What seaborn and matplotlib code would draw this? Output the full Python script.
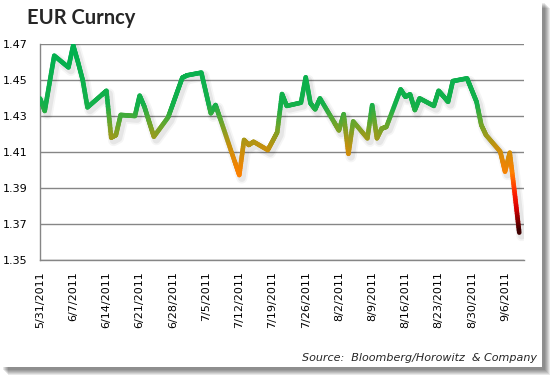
import numpy as np
import pandas as pd
import matplotlib
matplotlib.use("Agg")
import matplotlib.pyplot as plt
import matplotlib.dates as mdates
import matplotlib.transforms as mtransforms
from matplotlib.collections import LineCollection
from matplotlib.colors import LinearSegmentedColormap, Normalize
from matplotlib.patches import Rectangle
from matplotlib.ticker import FuncFormatter
import seaborn as sns

# EUR daily closes
dates = [
    "5/31/2011", "6/1/2011", "6/2/2011", "6/3/2011", "6/6/2011", "6/7/2011",
    "6/8/2011", "6/9/2011", "6/10/2011", "6/13/2011", "6/14/2011", "6/15/2011",
    "6/16/2011", "6/17/2011", "6/20/2011", "6/21/2011", "6/22/2011", "6/23/2011",
    "6/24/2011", "6/27/2011", "6/28/2011", "6/29/2011", "6/30/2011", "7/1/2011",
    "7/4/2011", "7/5/2011", "7/6/2011", "7/7/2011", "7/8/2011", "7/11/2011",
    "7/12/2011", "7/13/2011", "7/14/2011", "7/15/2011", "7/18/2011", "7/19/2011",
    "7/20/2011", "7/21/2011", "7/22/2011", "7/25/2011", "7/26/2011", "7/27/2011",
    "7/28/2011", "7/29/2011", "8/1/2011", "8/2/2011", "8/3/2011", "8/4/2011",
    "8/5/2011", "8/8/2011", "8/9/2011", "8/10/2011", "8/11/2011", "8/12/2011",
    "8/15/2011", "8/16/2011", "8/17/2011", "8/18/2011", "8/19/2011", "8/22/2011",
    "8/23/2011", "8/24/2011", "8/25/2011", "8/26/2011", "8/29/2011", "8/30/2011",
    "8/31/2011", "9/1/2011", "9/2/2011", "9/5/2011", "9/6/2011", "9/7/2011",
    "9/8/2011", "9/9/2011",
]
eur = [
    1.4398, 1.4328, 1.4482, 1.4635, 1.4570, 1.4692,
    1.4600, 1.4500, 1.4348, 1.4417, 1.4440, 1.4180,
    1.4194, 1.4306, 1.4300, 1.4413, 1.4352, 1.4268,
    1.4185, 1.4293, 1.4366, 1.4440, 1.4513, 1.4526,
    1.4541, 1.4428, 1.4315, 1.4361, 1.4283, 1.4050,
    1.3972, 1.4167, 1.4139, 1.4157, 1.4111, 1.4160,
    1.4210, 1.4422, 1.4356, 1.4374, 1.4515, 1.4371,
    1.4337, 1.4398, 1.4265, 1.4220, 1.4310, 1.4090,
    1.4270, 1.4176, 1.4360, 1.4176, 1.4230, 1.4240,
    1.4448, 1.4407, 1.4420, 1.4333, 1.4398, 1.4356,
    1.4440, 1.4410, 1.4379, 1.4494, 1.4509, 1.4444,
    1.4379, 1.4250, 1.4194, 1.4102, 1.3991, 1.4096,
    1.3880, 1.3652,
]
y_ticks = [1.35, 1.37, 1.39, 1.41, 1.43, 1.45, 1.47]

sns.set_style("white")
plt.rcParams['font.family'] = ['DejaVu Sans']

df = pd.DataFrame({"date": pd.to_datetime(dates, format="%m/%d/%Y"), "eur": eur})

W, H = 559, 382
fig = plt.figure(figsize=(W / 100, H / 100), dpi=100)
fig.patch.set_facecolor("white")

# white panel with a soft drop shadow
pw, ph = 542, 367
for off in [8, 7, 6, 5, 4, 3]:
    fig.patches.append(Rectangle((off / W, 1 - (ph + off) / H), pw / W, ph / H,
                                 transform=fig.transFigure, facecolor="black",
                                 alpha=0.09, edgecolor="none", zorder=-3))
fig.patches.append(Rectangle((0, 1 - ph / H), pw / W, ph / H, transform=fig.transFigure,
                             facecolor="white", edgecolor="none", zorder=-2))

ax = fig.add_axes([40 / W, 1 - 260 / H, (524 - 40) / W, (260 - 44) / H])
ax.set_facecolor("none")

# soft shadow under the line
shift = mtransforms.ScaledTranslation(1.8 / 72, -2.2 / 72, fig.dpi_scale_trans)
for lw, a in [(8, 0.04), (5.5, 0.06)]:
    sns.lineplot(data=df, x="date", y="eur", ax=ax, color="black", alpha=a,
                 linewidth=lw, solid_capstyle="round", solid_joinstyle="round")
    ax.lines[-1].set_transform(ax.transData + shift)

# gradient coloured line (by value)
cmap = LinearSegmentedColormap.from_list("eur", [
    (0.0, "#3a0000"), (0.12, "#d80000"), (0.2, "#ff2000"), (0.31, "#ff8000"),
    (0.45, "#c8900c"), (0.58, "#6aa62c"), (0.68, "#14b04a"), (1.0, "#00b050")])
xn = mdates.date2num(df["date"])
yv = df["eur"].to_numpy()
t = np.linspace(0, 1, 16)
segs, vals = [], []
for i in range(len(xn) - 1):
    xs = xn[i] + (xn[i + 1] - xn[i]) * t
    ys = yv[i] + (yv[i + 1] - yv[i]) * t
    pts = np.column_stack([xs, ys])
    segs.extend(np.stack([pts[:-1], pts[1:]], axis=1))
    vals.extend((ys[:-1] + ys[1:]) / 2)
lc = LineCollection(segs, cmap=cmap, norm=Normalize(min(eur), max(eur)),
                    linewidths=3.3, capstyle="round", joinstyle="round", zorder=3)
lc.set_array(np.array(vals))
ax.add_collection(lc)

ax.set_xlim(pd.Timestamp("2011-05-31"), pd.Timestamp("2011-09-10"))
ax.set_ylim(1.35, 1.47)
ax.set_yticks(y_ticks)
ax.yaxis.set_major_formatter(FuncFormatter(lambda v, p: f"{v:.2f}"))
ax.xaxis.set_major_locator(mdates.WeekdayLocator(byweekday=mdates.TU))
ax.xaxis.set_major_formatter(FuncFormatter(
    lambda v, p: f"{mdates.num2date(v).month}/{mdates.num2date(v).day}/{mdates.num2date(v).year}"))
ax.set_xlabel("")
ax.set_ylabel("")
ax.grid(axis="y", color="#868686", linewidth=1)
ax.grid(axis="x", visible=False)
for s in ["top", "right"]:
    ax.spines[s].set_visible(False)
for s in ["left", "bottom"]:
    ax.spines[s].set_color("#868686")
    ax.spines[s].set_linewidth(1)
ax.tick_params(axis="both", colors="#868686", labelcolor="black", labelsize=8,
               length=5, width=1, direction="out")
ax.tick_params(axis="x", rotation=90, pad=3)
ax.tick_params(axis="y", pad=4)

fig.text(27 / W, 1 - 18 / H, "EUR Curncy", fontsize=14.5, fontweight="bold",
         family=["Lato", "DejaVu Sans"], ha="left", va="center")
fig.text(537 / W, 1 - 358 / H, "Source:  Bloomberg/Horowitz  & Company", fontsize=8,
         style="italic", ha="right", va="center")

fig.savefig("out.png", dpi=100)
